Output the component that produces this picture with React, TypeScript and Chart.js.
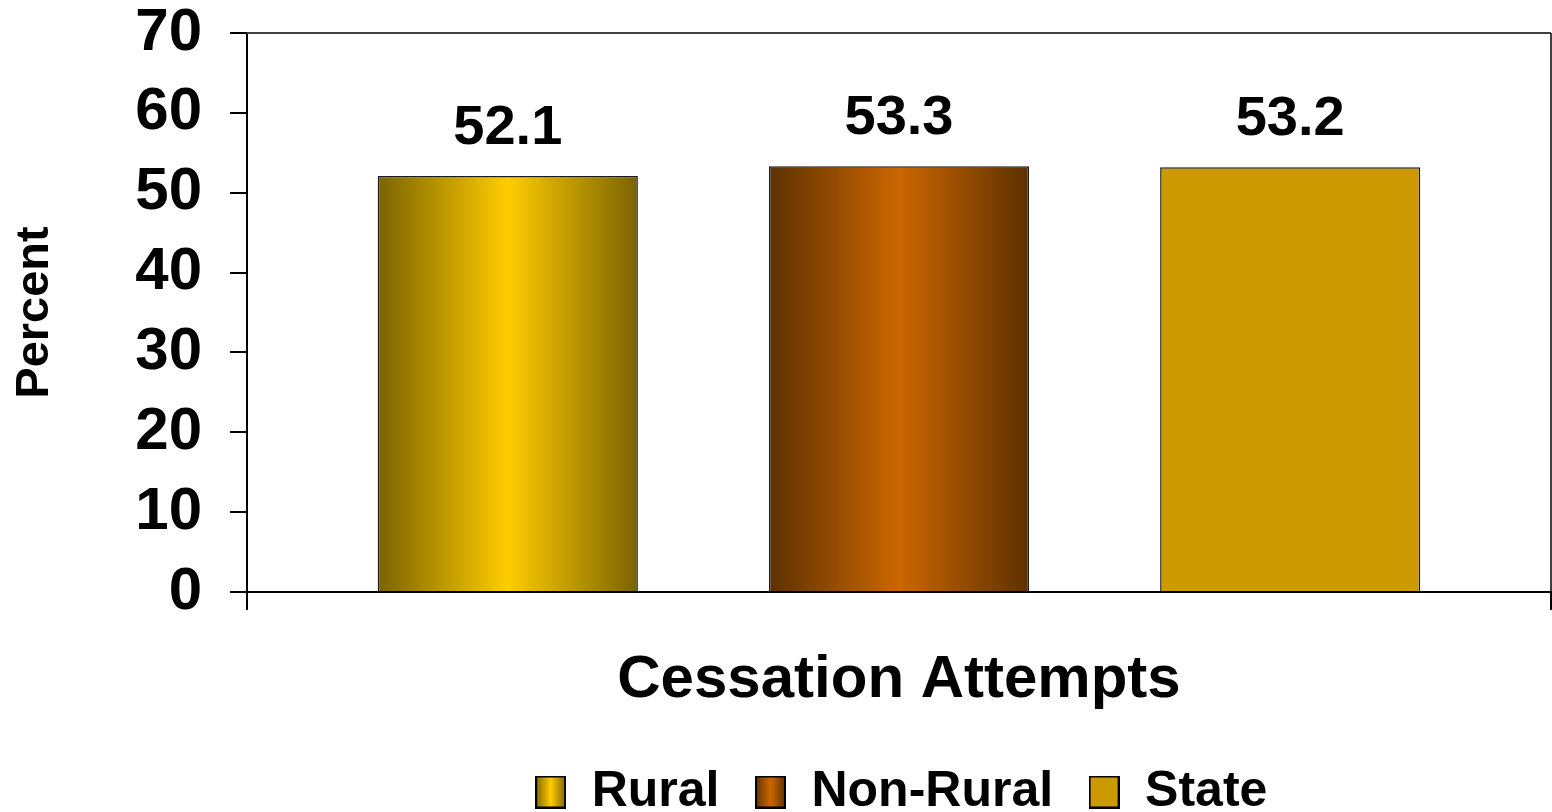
import React, { useEffect, useRef } from "react";
import { Chart, registerables } from "chart.js";

Chart.register(...registerables);

const categories = ["Cessation Attempts"];
const seriesNames = ["Rural", "Non-Rural", "State"];
const ruralValues = [52.1];
const nonRuralValues = [53.3];
const stateValues = [53.2];
const yTicks = [0, 10, 20, 30, 40, 50, 60, 70];

const FONT = "'Liberation Sans', Arial, Helvetica, sans-serif";
const CAT_PCT = 0.9;
const BAR_PCT = 0.665;

const gradientStops: (Array<[number, string]> | null)[] = [
  [[0, "#7A6300"], [0.5, "#FFCC00"], [1, "#7A6300"]],
  [[0, "#5C3100"], [0.5, "#CC6600"], [1, "#5C3100"]],
  null,
];
const solidColors = ["#E0B400", "#A85200", "#CC9900"];

function makeBg(di: number) {
  return (c: any) => {
    const stops = gradientStops[di];
    if (!stops) return solidColors[di];
    const chart = c.chart;
    const xs = chart.scales && chart.scales.x;
    if (c.type !== "data" || !xs || !chart.chartArea || !isFinite(xs.width) || xs.width <= 0) {
      return solidColors[di];
    }
    const n = categories.length;
    const center = xs.getPixelForValue(c.dataIndex);
    const slot = ((xs.width / n) * CAT_PCT) / seriesNames.length;
    const bc = center + (di - (seriesNames.length - 1) / 2) * slot;
    const w = slot * BAR_PCT;
    if (!isFinite(bc) || !isFinite(w)) return solidColors[di];
    const g = chart.ctx.createLinearGradient(bc - w / 2, 0, bc + w / 2, 0);
    stops.forEach(([o, col]) => g.addColorStop(o, col));
    return g;
  };
}

function makeSwatch(di: number): HTMLCanvasElement {
  const w = 31;
  const h = 33;
  const cv = document.createElement("canvas");
  cv.width = w;
  cv.height = h;
  const ctx = cv.getContext("2d")!;
  const stops = gradientStops[di];
  if (stops) {
    const g = ctx.createLinearGradient(0, 0, w, 0);
    stops.forEach(([o, col]) => g.addColorStop(o, col));
    ctx.fillStyle = g;
  } else {
    ctx.fillStyle = solidColors[di];
  }
  ctx.fillRect(0, 0, w, h);
  ctx.strokeStyle = "#000";
  ctx.lineWidth = 2;
  ctx.strokeRect(1, 1, w - 2, h - 2);
  return cv;
}

const valueLabels = {
  id: "valueLabels",
  afterDatasetsDraw(chart: any) {
    const ctx = chart.ctx;
    ctx.save();
    ctx.font = `bold 56px ${FONT}`;
    ctx.fillStyle = "#000";
    ctx.textAlign = "center";
    ctx.textBaseline = "alphabetic";
    chart.data.datasets.forEach((ds: any, di: number) => {
      const meta = chart.getDatasetMeta(di);
      meta.data.forEach((el: any, i: number) => {
        ctx.fillText(Number(ds.data[i]).toFixed(1), el.x, el.y - 32);
      });
    });
    ctx.restore();
  },
};

const frame = {
  id: "frame",
  afterDraw(chart: any) {
    const { ctx, chartArea } = chart;
    ctx.save();
    ctx.strokeStyle = "#404040";
    ctx.lineWidth = 2;
    ctx.beginPath();
    ctx.moveTo(chartArea.left, chartArea.top);
    ctx.lineTo(chartArea.right, chartArea.top);
    ctx.stroke();
    ctx.strokeStyle = "#000";
    ctx.lineWidth = 1.5;
    ctx.beginPath();
    ctx.moveTo(chartArea.right, chartArea.top);
    ctx.lineTo(chartArea.right, chartArea.bottom);
    ctx.stroke();
    ctx.restore();
  },
};

const legendShift = {
  id: "legendShift",
  afterLayout(chart: any) {
    const lg = chart.legend;
    if (!lg) return;
    const ca = chart.chartArea;
    const dx = (ca.left + ca.right) / 2 + 2 - (lg.left + lg.right) / 2;
    const dy = 15;
    lg.left += dx;
    lg.right += dx;
    lg.top += dy;
    lg.bottom += dy;
  },
};

export default function App() {
  const ref = useRef<HTMLCanvasElement>(null);

  useEffect(() => {
    if (!ref.current) return;
    const swatches = seriesNames.map((_, i) => makeSwatch(i));
    const values = [ruralValues, nonRuralValues, stateValues];
    const chart = new Chart(ref.current, {
      type: "bar",
      data: {
        labels: categories,
        datasets: seriesNames.map((name, i) => ({
          label: name,
          data: values[i],
          backgroundColor: makeBg(i),
          borderColor: "#1a1a1a",
          borderWidth: 1.5,
          categoryPercentage: CAT_PCT,
          barPercentage: BAR_PCT,
        })),
      },
      plugins: [valueLabels, frame, legendShift],
      options: {
        responsive: false,
        animation: false,
        devicePixelRatio: 1,
        layout: { padding: { left: 0, right: 1, top: 0, bottom: 0 } },
        plugins: {
          tooltip: { enabled: false },
          title: { display: false },
          legend: {
            display: true,
            position: "bottom",
            labels: {
              usePointStyle: true,
              boxWidth: 32,
              boxHeight: 32,
              padding: 35,
              color: "#000",
              font: { family: FONT, size: 50, weight: "bold" },
              generateLabels: (ch: any) =>
                ch.data.datasets.map((ds: any, i: number) => ({
                  text: ds.label,
                  pointStyle: swatches[i],
                  fillStyle: solidColors[i],
                  strokeStyle: "#000",
                  lineWidth: 0,
                  hidden: false,
                  datasetIndex: i,
                  fontColor: "#000",
                })),
            },
          },
        },
        scales: {
          x: {
            type: "category",
            offset: true,
            afterFit: (s: any) => {
              s.height = 125;
            },
            border: { display: true, color: "#000", width: 2 },
            grid: {
              display: true,
              offset: true,
              drawOnChartArea: false,
              drawTicks: true,
              tickLength: 18,
              color: "#000",
              lineWidth: 2,
            },
            ticks: {
              color: "#000",
              padding: 34,
              font: { family: FONT, size: 60, weight: "bold" },
              maxRotation: 0,
            },
          },
          y: {
            type: "linear",
            min: 0,
            max: 70,
            afterBuildTicks: (s: any) => {
              s.ticks = yTicks.map((v) => ({ value: v }));
            },
            afterFit: (s: any) => {
              s.width = 247;
              s.paddingTop = 33;
              s.paddingBottom = 0;
            },
            border: { display: true, color: "#000", width: 2 },
            grid: {
              display: true,
              drawOnChartArea: false,
              drawTicks: true,
              tickLength: 17,
              color: "#000",
              lineWidth: 2,
            },
            ticks: {
              color: "#000",
              padding: 28,
              font: { family: FONT, size: 60, weight: "bold", lineHeight: 1.1 },
            },
            title: {
              display: true,
              text: "Percent",
              color: "#000",
              padding: { top: 7, bottom: 0 },
              font: { family: FONT, size: 47, weight: "bold", lineHeight: 1.2 },
            },
          },
        },
      } as any,
    });
    return () => chart.destroy();
  }, []);

  return (
    <div
      style={{
        position: "fixed",
        left: 0,
        top: 0,
        width: 1552,
        height: 812,
        overflow: "hidden",
        background: "#fff",
      }}
    >
      <canvas ref={ref} width={1552} height={812} style={{ display: "block" }} />
    </div>
  );
}
